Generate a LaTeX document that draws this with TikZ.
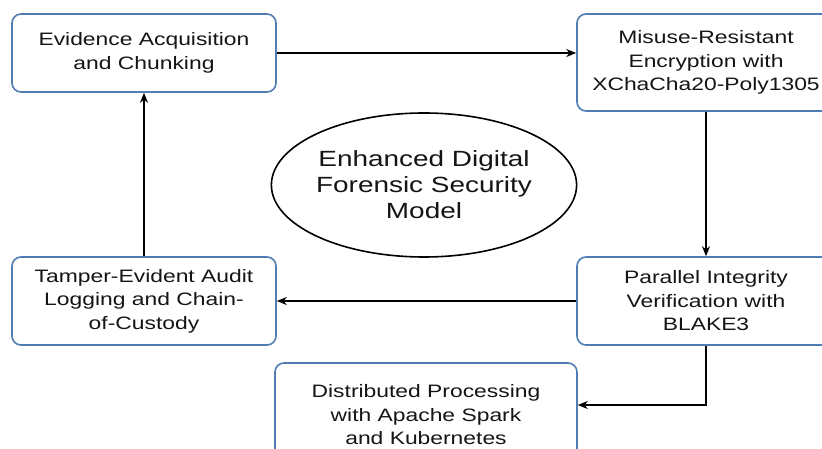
\documentclass[tikz,border=0pt]{standalone}
\usepackage{fontspec}
\setmainfont{Liberation Sans}[FakeStretch=1.27]
\usetikzlibrary{arrows.meta,shapes.geometric}

\definecolor{boxblue}{HTML}{4F7DB3}
\definecolor{inkgray}{HTML}{151515}

\begin{document}
\begin{tikzpicture}[x=1pt,y=-1pt,
  stage/.style={draw=boxblue, line width=1.6pt, rounded corners=9pt, fill=white,
    align=center, text=inkgray, inner sep=0pt,
    font=\fontsize{18}{23.5}\selectfont},
  core/.style={ellipse, draw=black, line width=1.6pt, align=center, text=inkgray,
    inner sep=0pt, font=\fontsize{22}{26}\selectfont},
  flow/.style={line width=1.6pt, -{Stealth[length=10pt,width=8pt]}}]
\useasboundingbox[fill=white] (0,0) rectangle (822,449);

% stages of the pipeline
\node[stage, minimum width=264pt, minimum height=78pt] (acq) at (144,53)
  {Evidence Acquisition\\and Chunking};
\node[stage, minimum width=258pt, minimum height=97pt] (enc) at (706,62.5)
  {Misuse-Resistant\\Encryption with\\XChaCha20-Poly1305};
\node[stage, minimum width=258pt, minimum height=88pt] (verify) at (706,301)
  {Parallel Integrity\\Verification with\\BLAKE3};
\node[stage, minimum width=264pt, minimum height=88pt] (audit) at (144,301)
  {Tamper-Evident Audit\\Logging and Chain-\\of-Custody};
\node[stage, minimum width=302pt, minimum height=104pt] (dist) at (426,415)
  {Distributed Processing\\with Apache Spark\\and Kubernetes};

% model in the middle
\node[core, minimum width=288pt, minimum height=144pt] (model) at (424,185)
  {Enhanced Digital\\Forensic Security\\Model};

% connectors
\draw[flow] (acq.east) -- (acq.east -| enc.west);
\draw[flow] (enc.south) -- (verify.north);
\draw[flow] (verify.west) -- (verify.west -| audit.east);
\draw[flow] (audit.north) -- (acq.south);
\draw[flow] (verify.south) |- ([yshift=10pt]dist.east);

\end{tikzpicture}
\end{document}
